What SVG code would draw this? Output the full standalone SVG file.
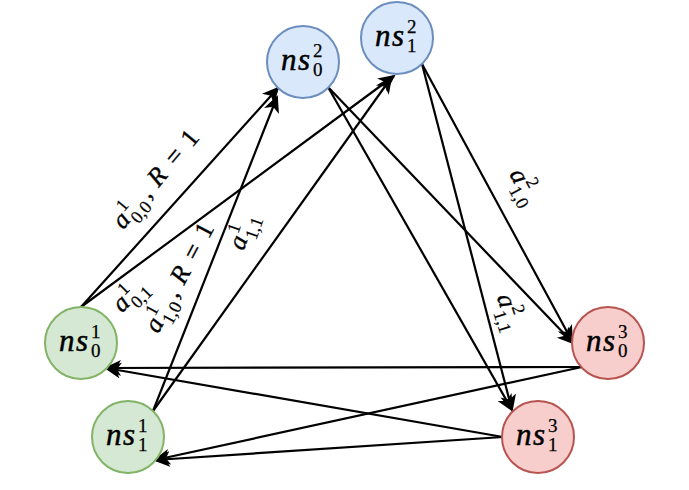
<svg xmlns="http://www.w3.org/2000/svg" width="689" height="490" viewBox="0 0 689 490">
<style>
.bg{fill:#ffffff}
.ln{stroke:#000;stroke-width:2.2;fill:none;marker-end:url(#arr)}
.green{fill:#d5e8d4;stroke:#82b366;stroke-width:2}
.blue{fill:#dae8fc;stroke:#6c8ebf;stroke-width:2}
.red{fill:#f8cecc;stroke:#b85450;stroke-width:2}
.ns{font-family:"Liberation Serif","Times New Roman",serif;font-style:italic;font-size:31px;letter-spacing:1.5px;fill:#000;stroke:#000;stroke-width:0.5}
.nsc{font-style:normal;font-size:19px;letter-spacing:0;stroke-width:0.25}
.mi{font-family:"Liberation Serif","Times New Roman",serif;font-style:italic;font-size:26px;fill:#000;stroke:#000;stroke-width:0.35}
.mn{font-style:normal;font-size:26px}
.sc{font-style:normal;font-size:18px;stroke-width:0.2}
</style>
<defs>
<marker id="arr" markerUnits="userSpaceOnUse" markerWidth="20" markerHeight="18" refX="15" refY="8" orient="auto">
<path d="M0,0 L17,8 L0,16 L4.5,8 Z" fill="#000"/>
</marker>
</defs>
<rect class="bg" x="0" y="0" width="689" height="490"/>
<g id="connectors">
<line class="ln" x1="81" y1="307" x2="278" y2="88"/>
<line class="ln" x1="81" y1="307" x2="394" y2="76"/>
<line class="ln" x1="153" y1="411" x2="277" y2="97"/>
<line class="ln" x1="153" y1="411" x2="391" y2="78"/>
<line class="ln" x1="328" y1="87" x2="573" y2="343"/>
<line class="ln" x1="328" y1="87" x2="512" y2="410"/>
<line class="ln" x1="422" y1="64" x2="572" y2="341"/>
<line class="ln" x1="422" y1="64" x2="512" y2="410"/>
<line class="ln" x1="582" y1="367" x2="106" y2="368"/>
<line class="ln" x1="582" y1="367" x2="155" y2="460"/>
<line class="ln" x1="503" y1="437" x2="106" y2="368"/>
<line class="ln" x1="503" y1="437" x2="155" y2="460"/>
</g>
<g id="edge-labels">
<g id="lbl-a100" transform="translate(158,181) rotate(-50)">
<text class="mi" x="-60" y="5">a<tspan class="sc" x="-46" y="-6">1</tspan><tspan class="sc" x="-46" y="13">0,0</tspan><tspan class="mn" x="-20" y="5">,</tspan><tspan x="-5" y="5">R</tspan><tspan class="mn" x="22" y="5">=</tspan><tspan class="mn" x="47" y="5">1</tspan></text>
</g>
<g id="lbl-a101" transform="translate(132,298) rotate(-45)">
<text class="mi" x="-18" y="4">a<tspan class="sc" x="-4" y="-7">1</tspan><tspan class="sc" x="-4" y="12">0,1</tspan></text>
</g>
<g id="lbl-a110" transform="translate(182,279) rotate(-62)">
<text class="mi" x="-60" y="5">a<tspan class="sc" x="-46" y="-6">1</tspan><tspan class="sc" x="-46" y="13">1,0</tspan><tspan class="mn" x="-20" y="5">,</tspan><tspan x="-5" y="5">R</tspan><tspan class="mn" x="22" y="5">=</tspan><tspan class="mn" x="47" y="5">1</tspan></text>
</g>
<g id="lbl-a111" transform="translate(246,233) rotate(-70)">
<text class="mi" x="-18" y="4">a<tspan class="sc" x="-4" y="-7">1</tspan><tspan class="sc" x="-4" y="12">1,1</tspan></text>
</g>
<g id="lbl-a210" transform="translate(521,188) rotate(62)">
<text class="mi" x="-18" y="4">a<tspan class="sc" x="-4" y="-7">2</tspan><tspan class="sc" x="-4" y="12">1,0</tspan></text>
</g>
<g id="lbl-a211" transform="translate(506,313) rotate(72)">
<text class="mi" x="-18" y="4">a<tspan class="sc" x="-4" y="-7">2</tspan><tspan class="sc" x="-4" y="12">1,1</tspan></text>
</g>
</g>
<g id="ns0-1">
<circle class="green" cx="81" cy="343" r="36"/>
<text class="ns" x="59" y="351">ns<tspan class="nsc" x="91" y="338">1</tspan><tspan class="nsc" x="91" y="357">0</tspan></text>
</g>
<g id="ns1-1">
<circle class="green" cx="128" cy="437" r="36"/>
<text class="ns" x="106" y="445">ns<tspan class="nsc" x="138" y="432">1</tspan><tspan class="nsc" x="138" y="451">1</tspan></text>
</g>
<g id="ns0-2">
<circle class="blue" cx="303" cy="62" r="36"/>
<text class="ns" x="281" y="70">ns<tspan class="nsc" x="313" y="57">2</tspan><tspan class="nsc" x="313" y="76">0</tspan></text>
</g>
<g id="ns1-2">
<circle class="blue" cx="397" cy="38" r="36"/>
<text class="ns" x="375" y="46">ns<tspan class="nsc" x="407" y="33">2</tspan><tspan class="nsc" x="407" y="52">1</tspan></text>
</g>
<g id="ns0-3">
<circle class="red" cx="608" cy="343" r="36"/>
<text class="ns" x="586" y="351">ns<tspan class="nsc" x="618" y="338">3</tspan><tspan class="nsc" x="618" y="357">0</tspan></text>
</g>
<g id="ns1-3">
<circle class="red" cx="538" cy="437" r="36"/>
<text class="ns" x="516" y="445">ns<tspan class="nsc" x="548" y="432">3</tspan><tspan class="nsc" x="548" y="451">1</tspan></text>
</g>
</svg>
